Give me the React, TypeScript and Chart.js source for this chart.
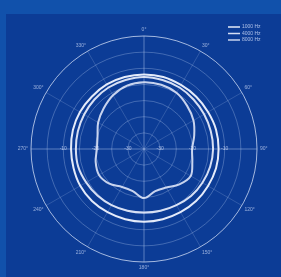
import React, { useEffect, useRef } from 'react';
import { Chart, registerables } from 'chart.js';

Chart.register(...registerables);

// Angles (degrees, clockwise from top) at which each series is sampled
const ANGLE_LABELS = [
  '0°', '15°', '30°', '45°', '60°', '75°', '90°', '105°', '120°', '135°', '150°', '165°',
  '180°', '195°', '210°', '225°', '240°', '255°', '270°', '285°', '300°', '315°', '330°', '345°',
];

// Series names (legend)
const SERIES_NAMES = ['1000 Hz', '4000 Hz', '8000 Hz'];

// Level in dB at each angle
const SERIES_A = [
  -11.9, -11.9, -12.1, -12.1, -12.1, -11.9, -11.9, -11.9, -12.1, -12.2, -12.4, -12.5,
  -12.5, -12.5, -12.4, -12.2, -12.2, -12.4, -12.4, -12.2, -12.1, -12.1, -11.9, -11.9,
];
const SERIES_B = [
  -12.7, -12.9, -13.0, -13.3, -13.5, -13.6, -13.6, -13.8, -14.1, -14.4, -14.9, -15.2,
  -15.3, -15.2, -14.9, -14.6, -14.3, -13.9, -13.9, -13.8, -13.6, -13.3, -13.0, -12.9,
];
const SERIES_C = [
  -14.3, -14.4, -14.9, -16.1, -17.3, -18.9, -20.1, -19.5, -18.3, -19.5, -21.2, -21.5,
  -19.8, -21.5, -21.4, -19.8, -18.9, -19.5, -20.4, -20.1, -18.6, -17.3, -15.8, -14.7,
];

// Radial scale
const R_MIN = -35;
const R_MAX = 0;
const R_STEP = 5;
const TICK_VALUES = [-30, -20, -10];
const TICK_LABELS = ['-30', '-20', '-10'];

const LINE_COLORS = ['rgba(240,244,255,0.95)', 'rgba(232,238,252,0.92)', 'rgba(225,232,250,0.88)'];

const overlayPlugin = {
  id: 'overlay',
  afterDraw(chart: any) {
    const ctx = chart.ctx;
    const scale = chart.scales.r;
    ctx.save();
    ctx.font = '5px "Liberation Sans", sans-serif';
    ctx.fillStyle = 'rgba(220,230,255,0.7)';
    ctx.textAlign = 'center';
    ctx.textBaseline = 'middle';
    TICK_VALUES.forEach((v, i) => {
      const d = scale.getDistanceFromCenterForValue(v);
      ctx.fillText(TICK_LABELS[i], scale.xCenter - d, scale.yCenter);
      ctx.fillText(TICK_LABELS[i], scale.xCenter + d, scale.yCenter);
    });
    // legend
    const x0 = chart.width - 53;
    const y0 = 13;
    ctx.textAlign = 'left';
    chart.data.datasets.forEach((ds: any, i: number) => {
      const y = y0 + i * 6.5;
      ctx.strokeStyle = ds.borderColor;
      ctx.lineWidth = 1.5;
      ctx.beginPath();
      ctx.moveTo(x0, y);
      ctx.lineTo(x0 + 12, y);
      ctx.stroke();
      ctx.fillStyle = 'rgba(220,230,255,0.75)';
      ctx.fillText(ds.label, x0 + 14, y);
    });
    ctx.restore();
  },
};

export default function App() {
  const canvasRef = useRef<HTMLCanvasElement>(null);

  useEffect(() => {
    if (!canvasRef.current) return;
    const chart = new Chart(canvasRef.current, {
      type: 'radar',
      data: {
        labels: ANGLE_LABELS,
        datasets: [SERIES_A, SERIES_B, SERIES_C].map((d, i) => ({
          label: SERIES_NAMES[i],
          data: d,
          borderColor: LINE_COLORS[i],
          borderWidth: 2,
          pointRadius: 0,
          fill: false,
          tension: 0.35,
        })),
      },
      options: {
        animation: false,
        responsive: true,
        maintainAspectRatio: false,
        layout: { padding: { top: 13, bottom: 5, left: 1, right: 0 } },
        plugins: { legend: { display: false }, tooltip: { enabled: false } },
        scales: {
          r: {
            min: R_MIN,
            max: R_MAX,
            startAngle: 0,
            ticks: { display: false, stepSize: R_STEP },
            grid: {
              circular: true,
              color: (ctx: any) =>
                ctx.tick && ctx.tick.value === R_MAX ? 'rgba(230,238,255,0.7)' : 'rgba(210,225,255,0.28)',
              lineWidth: 1,
            },
            angleLines: {
              color: (ctx: any) =>
                ctx.index % 6 === 0
                  ? 'rgba(210,225,255,0.4)'
                  : ctx.index % 2 === 0
                  ? 'rgba(210,225,255,0.18)'
                  : 'rgba(0,0,0,0)',
              lineWidth: 1,
            },
            pointLabels: {
              callback: (label: string, index: number) => (index % 2 === 0 ? label : ''),
              color: 'rgba(220,230,255,0.65)',
              font: { size: 5, family: '"Liberation Sans", sans-serif' },
              padding: 3,
            },
          },
        },
      },
      plugins: [overlayPlugin],
    });
    return () => chart.destroy();
  }, []);

  return (
    <div style={{ position: 'fixed', inset: 0, background: '#1151ab' }}>
      <div
        style={{
          position: 'absolute',
          left: 6,
          top: 14,
          width: 275,
          height: 263,
          background: '#0c3c96',
        }}
      >
        <canvas ref={canvasRef} />
      </div>
    </div>
  );
}
